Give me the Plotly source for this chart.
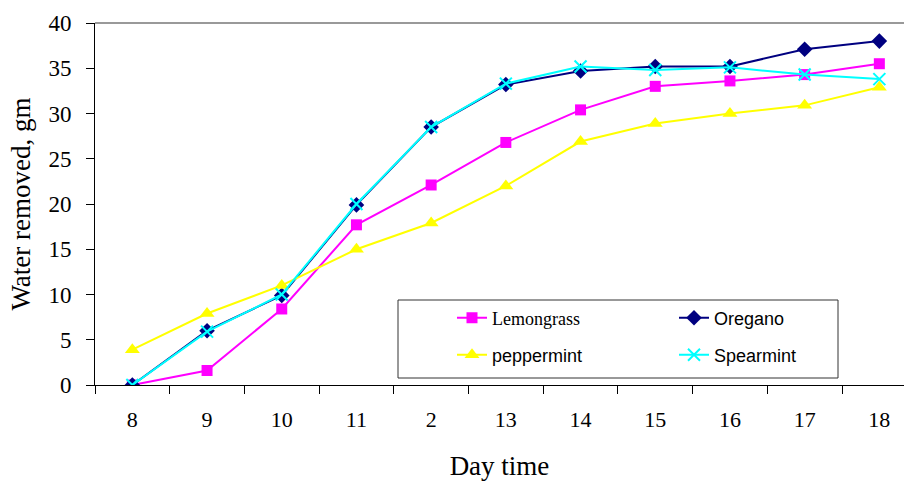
import plotly.graph_objects as go

days = ["8", "9", "10", "11", "2", "13", "14", "15", "16", "17", "18"]
lemongrass = [0, 1.6, 8.4, 17.7, 22.1, 26.8, 30.4, 33.0, 33.6, 34.3, 35.5]
oregano = [0, 6.0, 9.9, 19.9, 28.5, 33.2, 34.7, 35.2, 35.2, 37.1, 38.0]
peppermint = [3.9, 7.9, 11.0, 15.0, 17.9, 22.0, 26.9, 28.9, 30.0, 30.9, 32.9]
spearmint = [0, 5.9, 10.0, 20.0, 28.5, 33.3, 35.2, 34.8, 35.1, 34.3, 33.8]
y_ticks = [0, 5, 10, 15, 20, 25, 30, 35, 40]

W, H = 904, 481
L, T, B, R = 95, 23, 96, 0
pw, ph = W - L - R, H - T - B


def px(x):
    return (x - L) / pw


def py(y):
    return (H - B - y) / ph


fig = go.Figure()
fig.add_trace(go.Scatter(x=days, y=lemongrass, mode="lines+markers",
                         name='<span style="font-family:Liberation Serif">Lemongrass</span>',
                         line=dict(color="#FF00FF", width=2),
                         marker=dict(symbol="square", size=11, color="#FF00FF"),
                         legend="legend", showlegend=True))
fig.add_trace(go.Scatter(x=days, y=oregano, mode="lines+markers", name="Oregano",
                         line=dict(color="#000080", width=2),
                         marker=dict(symbol="diamond", size=12, color="#000080"),
                         legend="legend2", showlegend=True))
fig.add_trace(go.Scatter(x=days, y=peppermint, mode="lines+markers", name="peppermint",
                         line=dict(color="#FFFF00", width=2),
                         marker=dict(symbol="triangle-up", size=13, color="#FFFF00"),
                         legend="legend3", showlegend=True))
fig.add_trace(go.Scatter(x=days, y=spearmint, mode="lines+markers", name="Spearmint",
                         line=dict(color="#00FFFF", width=2),
                         marker=dict(symbol="x-thin", size=12, line=dict(color="#00FFFF", width=2)),
                         legend="legend4", showlegend=True))

leg_common = dict(bgcolor="rgba(0,0,0,0)", borderwidth=0, xanchor="left", yanchor="middle",
                  font=dict(family="Liberation Sans", size=18, color="#000"))
lx1, lx2 = 452, 674
ly1, ly2 = 318, 355

fig.update_layout(
    width=W, height=H,
    showlegend=True,
    margin=dict(l=L, r=R, t=T, b=B),
    plot_bgcolor="white", paper_bgcolor="white",
    font=dict(family="Liberation Serif", color="#000"),
    xaxis=dict(type="category", range=[-0.5, 10.33], tickson="boundaries",
               ticks="outside", ticklen=8, tickcolor="#000", tickwidth=1,
               showline=True, linecolor="#000", linewidth=1, showgrid=False,
               tickfont=dict(size=22, family="Liberation Serif"), ticklabelstandoff=15,
               title=dict(text="Day time", font=dict(size=27, family="Liberation Serif"), standoff=25)),
    yaxis=dict(range=[0, 40], tickvals=y_ticks, ticks="outside", ticklen=8,
               tickcolor="#000", showline=True, linecolor="#000", linewidth=1,
               showgrid=False, zeroline=False,
               tickfont=dict(size=23, family="Liberation Serif"), ticklabelstandoff=10,
               title=dict(text="Water removed, gm", font=dict(size=27, family="Liberation Serif"), standoff=9)),
    legend=dict(x=px(lx1), y=py(ly1), **leg_common),
    legend2=dict(x=px(lx2), y=py(ly1), **leg_common),
    legend3=dict(x=px(lx1), y=py(ly2), **leg_common),
    legend4=dict(x=px(lx2), y=py(ly2), **leg_common),
    shapes=[
        dict(type="rect", xref="paper", yref="paper", x0=px(398), x1=px(838), y0=py(378), y1=py(300),
             line=dict(color="#333", width=1), fillcolor="rgba(0,0,0,0)", layer="below"),
        dict(type="line", xref="paper", yref="paper", x0=0, x1=1, y0=1, y1=1,
             line=dict(color="#999", width=2)),
    ],
)

fig.write_html("out.html")
